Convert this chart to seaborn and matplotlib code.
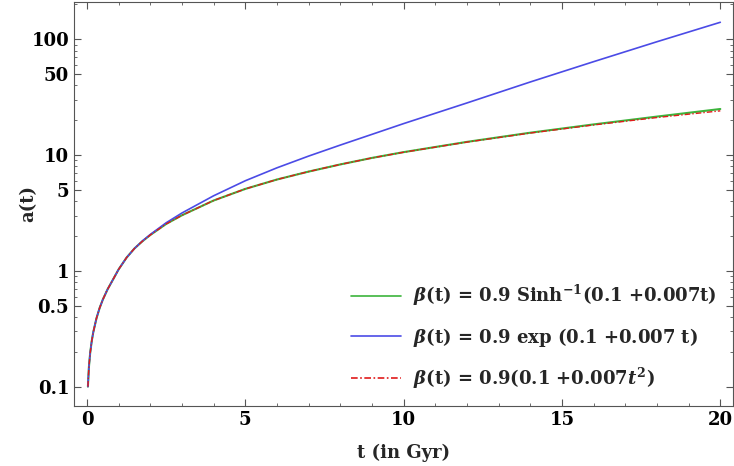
import numpy as np
import pandas as pd
import matplotlib
matplotlib.use("Agg")
import matplotlib.pyplot as plt
import seaborn as sns

# values (t in Gyr, a(t))
t_vals = [0.03, 0.06, 0.1, 0.15, 0.2, 0.3, 0.4, 0.5, 0.65, 0.8, 1.0, 1.25, 1.5, 1.75,
          2.0, 2.5, 3.0, 4.0, 5.0, 6.0, 7.0, 8.0, 9.0, 10.0, 12.0, 14.0, 16.0, 18.0, 20.0]
a_sinh = [0.1, 0.146, 0.194, 0.247, 0.296, 0.389, 0.478, 0.564, 0.692, 0.82, 1.03, 1.30,
          1.56, 1.80, 2.04, 2.54, 3.02, 4.05, 5.1, 6.15, 7.2, 8.3, 9.45, 10.6, 13.0,
          15.6, 18.4, 21.5, 25.0]
a_exp = [0.1, 0.146, 0.194, 0.247, 0.296, 0.389, 0.478, 0.564, 0.692, 0.82, 1.03, 1.30,
         1.56, 1.81, 2.06, 2.60, 3.16, 4.45, 6.0, 7.76, 9.8, 12.2, 15.1, 18.7, 28.2,
         42.8, 64.1, 95.3, 140.3]
a_quad = [0.1, 0.146, 0.194, 0.247, 0.296, 0.389, 0.478, 0.564, 0.692, 0.82, 1.03, 1.30,
          1.56, 1.80, 2.04, 2.54, 3.02, 4.05, 5.1, 6.15, 7.2, 8.3, 9.44, 10.58, 12.95,
          15.5, 18.2, 21.1, 24.1]

labels = [r"$\beta$(t) = 0.9 Sinh$^{-1}$(0.1 +0.007t)",
          r"$\beta$(t) = 0.9 exp (0.1 +0.007 t)",
          r"$\beta$(t) = 0.9(0.1 +0.007$t^2$)"]

x_ticks = [0, 5, 10, 15, 20]
y_ticks = [0.1, 0.5, 1, 5, 10, 50, 100]
y_tick_labels = ["0.1", "0.5", "1", "5", "10", "50", "100"]

sns.set_style("ticks")
plt.rcParams["font.family"] = ["DejaVu Serif"]
plt.rcParams["font.weight"] = "bold"
plt.rcParams["mathtext.fontset"] = "dejavuserif"
plt.rcParams["axes.edgecolor"] = "#555555"

fig = plt.figure(figsize=(7.34, 4.66), dpi=100)
ax = fig.add_axes([0.1008, 0.1288, 0.8978, 0.8669])

sns.lineplot(x=t_vals, y=a_sinh, ax=ax, color="#3cb43c", lw=1.5, label=labels[0])
sns.lineplot(x=t_vals, y=a_exp, ax=ax, color="#4b4be6", lw=1.2, label=labels[1])
sns.lineplot(x=t_vals, y=a_quad, ax=ax, color="#e01a1a", lw=1.0, label=labels[2])
ax.lines[2].set_dashes([4, 1.5, 1, 1.5])

ax.set_yscale("log")
ax.set_xlim(-0.41, 20.4)
ax.set_ylim(0.068, 210)

ax.set_xticks(x_ticks)
ax.set_xticks(np.arange(0, 21, 1), minor=True)
ax.set_yticks(y_ticks, labels=y_tick_labels)
minor_y = [v * m for v in [0.1, 1, 10, 100] for m in range(1, 10)
           if 0.068 < v * m < 210 and v * m not in y_ticks]
ax.set_yticks(minor_y, minor=True)
ax.yaxis.set_minor_formatter(matplotlib.ticker.NullFormatter())

ax.tick_params(which="both", direction="in", top=True, right=True,
               color="#555555", labelsize=13, labelcolor="black")
ax.tick_params(which="major", length=5, width=0.8)
ax.tick_params(which="minor", length=2.5, width=0.6)
for lab in ax.get_xticklabels() + ax.get_yticklabels():
    lab.set_fontweight("bold")

ax.set_xlabel("t (in Gyr)", fontsize=13, fontweight="bold", labelpad=10.5)
ax.set_ylabel("a(t)", fontsize=13, fontweight="bold", labelpad=-4)

leg = ax.legend(loc="lower right", bbox_to_anchor=(1.0, -0.003), frameon=False,
                fontsize=13, handlelength=2.77, handletextpad=0.66, labelspacing=0.95)
for line in leg.get_lines():
    line.set_linewidth(1.2)
leg.get_lines()[2].set_dashes([4, 1.5, 1, 1.5])

fig.savefig("out.png", dpi=100)
